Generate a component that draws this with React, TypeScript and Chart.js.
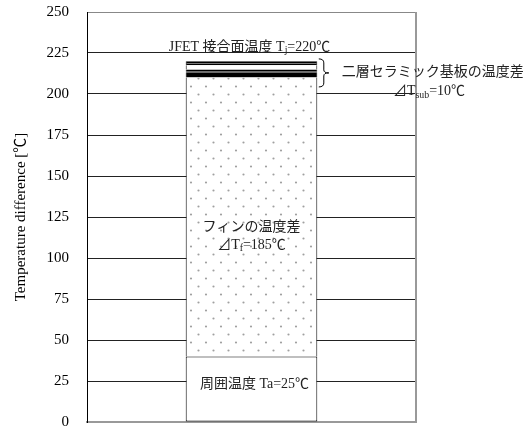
import React, { useEffect, useRef } from 'react';
import { Chart, registerables } from 'chart.js';

Chart.register(...registerables);

// ---- data ----
const categories = [''];
const ambientSegment = [40];
const finSegment = [170];
const substrateLayers = [3.2, 0.4, 1.4, 2.6, 0.7, 0.6, 1.1];
const yMin = 0;
const yMax = 250;
const yStep = 25;
const axisTitle = 'Temperature difference [℃]';

// ---- styles ----
const substrateColors = ['#000000', '#666666', '#000000', '#ffffff', '#000000', '#777777', '#000000'];
const FONT = '"Liberation Serif", "Noto Sans CJK JP", serif';
const TEXT = '#222222';

type Run = { t: string; sub?: boolean };

function drawRuns(ctx: CanvasRenderingContext2D, runs: Run[], x: number, cy: number, size: number, align: 'center' | 'left') {
  let w = 0;
  const parts = runs.map((r) => {
    const s = r.sub ? size * 0.7 : size;
    ctx.font = `${s}px ${FONT}`;
    const m = ctx.measureText(r.t).width;
    w += m;
    return { r, s, m };
  });
  let cx = align === 'center' ? x - w / 2 : x;
  ctx.textBaseline = 'middle';
  ctx.textAlign = 'left';
  ctx.fillStyle = TEXT;
  for (const p of parts) {
    ctx.font = `${p.s}px ${FONT}`;
    ctx.fillText(p.r.t, cx, cy + (p.r.sub ? size * 0.25 : 0));
    cx += p.m;
  }
}

const annotationPlugin = {
  id: 'annotations',
  afterDraw(chart: any) {
    const { ctx, chartArea } = chart;
    const xs = chart.scales.x;
    const ys = chart.scales.y;
    const cx = xs.getPixelForValue(0);
    ctx.save();
    // right border
    ctx.strokeStyle = '#999999';
    ctx.lineWidth = 2;
    ctx.beginPath();
    ctx.moveTo(chartArea.right, chartArea.top);
    ctx.lineTo(chartArea.right, chartArea.bottom);
    ctx.stroke();

    drawRuns(ctx, [{ t: 'JFET 接合面温度 T' }, { t: 'j', sub: true }, { t: '=220℃' }], cx - 2, ys.getPixelForValue(228.5), 14, 'center');
    drawRuns(ctx, [{ t: 'フィンの温度差' }], cx, ys.getPixelForValue(118.5), 14, 'center');
    drawRuns(ctx, [{ t: '⊿T' }, { t: 'f', sub: true }, { t: '=185℃' }], cx, ys.getPixelForValue(108), 14, 'center');
    drawRuns(ctx, [{ t: '周囲温度 Ta=25℃' }], cx + 3, ys.getPixelForValue(22.7), 14, 'center');

    // brace
    const meta = chart.getDatasetMeta(1);
    const barRight = meta.data[0].x + meta.data[0].width / 2;
    const top = ys.getPixelForValue(221.4);
    const bot = ys.getPixelForValue(204.3);
    const mid = (top + bot) / 2;
    const x0 = barRight + 1.5;
    const xm = x0 + 5;
    const x1 = x0 + 10;
    ctx.strokeStyle = '#000';
    ctx.lineWidth = 1;
    ctx.beginPath();
    ctx.moveTo(x0, top);
    ctx.quadraticCurveTo(xm, top, xm, top + 4);
    ctx.lineTo(xm, mid - 3);
    ctx.quadraticCurveTo(xm, mid, x1, mid);
    ctx.quadraticCurveTo(xm, mid, xm, mid + 3);
    ctx.lineTo(xm, bot - 4);
    ctx.quadraticCurveTo(xm, bot, x0, bot);
    ctx.stroke();

    drawRuns(ctx, [{ t: '二層セラミック基板の温度差' }], x1 + 13, ys.getPixelForValue(213), 14, 'left');
    drawRuns(ctx, [{ t: '⊿T' }, { t: 'sub', sub: true }, { t: '=10℃' }], 429, ys.getPixelForValue(201.4), 14, 'center');
    ctx.restore();
  },
};

function makeDotPattern(): CanvasPattern | string {
  const c = document.createElement('canvas');
  c.width = 15;
  c.height = 16;
  const g = c.getContext('2d');
  if (!g) return '#fff';
  g.fillStyle = '#ffffff';
  g.fillRect(0, 0, 15, 16);
  g.fillStyle = '#a0a0a0';
  g.beginPath();
  g.arc(11, 6.5, 1.1, 0, Math.PI * 2);
  g.arc(3.5, 14.5, 1.1, 0, Math.PI * 2);
  g.fill();
  const p = g.createPattern(c, 'repeat');
  return p || '#fff';
}

export default function App() {
  const ref = useRef<HTMLCanvasElement>(null);
  useEffect(() => {
    if (!ref.current) return;
    const pattern = makeDotPattern();
    const common = {
      barPercentage: 0.5,
      categoryPercentage: 0.8,
      borderSkipped: false as const,
    };
    const datasets: any[] = [
      {
        label: 'ambient',
        data: ambientSegment,
        backgroundColor: '#ffffff',
        borderColor: '#000000',
        borderWidth: 1,
        ...common,
      },
      {
        label: 'fin',
        data: finSegment,
        backgroundColor: pattern,
        borderColor: '#000000',
        borderWidth: { left: 1, right: 1, top: 0, bottom: 0 },
        ...common,
      },
      ...substrateLayers.map((v, i) => ({
        label: 'sub' + i,
        data: [v],
        backgroundColor: substrateColors[i],
        borderColor: '#000000',
        borderWidth: { left: 1, right: 1, top: 0, bottom: 0 },
        ...common,
      })),
    ];
    const chart = new Chart(ref.current, {
      type: 'bar',
      data: { labels: categories, datasets },
      plugins: [annotationPlugin],
      options: {
        animation: false,
        responsive: false,
        layout: { padding: { left: 0, top: 12, right: 108, bottom: 0 } },
        plugins: { legend: { display: false }, tooltip: { enabled: false } },
        scales: {
          x: {
            stacked: true,
            ticks: { display: false },
            grid: { display: false, drawTicks: false },
            border: { color: '#999999', width: 2 },
            afterFit(scale: any) {
              scale.height = 10;
              scale.paddingLeft = 0;
              scale.paddingRight = 0;
            },
          },
          y: {
            stacked: true,
            min: yMin,
            max: yMax,
            ticks: {
              stepSize: yStep,
              padding: 18,
              color: '#000',
              font: { family: FONT, size: 15 },
            },
            grid: {
              drawTicks: false,
              color: (ctx: any) => {
                const v = ctx.tick ? ctx.tick.value : null;
                if (v === yMax) return '#888888';
                if (v === yMin) return 'rgba(0,0,0,0)';
                return '#222222';
              },
            },
            border: { color: '#000000', width: 1 },
            title: {
              display: true,
              text: axisTitle,
              color: '#000',
              font: { family: FONT, size: 15 },
              padding: { top: 12, bottom: 0 },
            },
            afterFit(scale: any) {
              scale.width = 87;
              scale.paddingTop = 0;
              scale.paddingBottom = 0;
            },
          },
        },
      },
    });
    return () => chart.destroy();
  }, []);
  return (
    <div style={{ position: 'fixed', left: 0, top: 0, width: 524, height: 432, background: '#fff' }}>
      <canvas ref={ref} width={524} height={432} />
    </div>
  );
}
